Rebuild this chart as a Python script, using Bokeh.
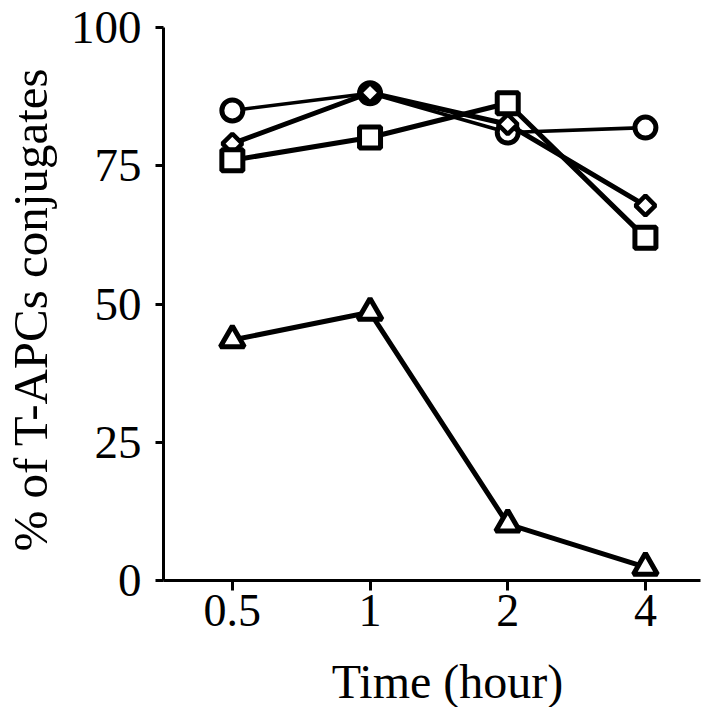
import math
from bokeh.plotting import figure
from bokeh.layouts import row, column
from bokeh.models import Range1d, FixedTicker, Label
from bokeh.embed import file_html
from bokeh.resources import INLINE

# ---- data ----
time_labels = ["0.5", "1", "2", "4"]
x_pos = [0, 1, 2, 3]
circle_vals = [85.0, 88.1, 81.0, 81.9]
diamond_vals = [79.0, 88.2, 82.5, 67.8]
square_vals = [76.0, 80.1, 86.3, 62.0]
triangle_vals = [43.5, 48.5, 10.2, 2.4]
y_ticks = [0, 25, 50, 75, 100]
y_title = "% of T-APCs conjugates"
x_title = "Time (hour)"

FONT = "Liberation Serif"


def text_panel(w, h):
    f = figure(width=w, height=h, output_backend="svg", toolbar_location=None,
               x_axis_location=None, y_axis_location=None,
               min_border=0, min_border_left=0, min_border_right=0,
               min_border_top=0, min_border_bottom=0)
    f.outline_line_color = None
    f.xgrid.visible = False
    f.ygrid.visible = False
    return f


# y-title panel
yt = text_panel(60, 707)
yt.add_layout(Label(x=30, y=398, x_units="screen", y_units="screen",
                    text=y_title, angle=math.pi / 2,
                    text_align="center", text_baseline="alphabetic",
                    text_font=FONT, text_font_size="49px", text_color="black"))

# main plot
p = figure(width=660, height=652, output_backend="svg", toolbar_location=None,
           x_range=Range1d(-0.5, 3.4), y_range=Range1d(0, 100),
           min_border_left=103, min_border_right=20, min_border_top=27,
           min_border_bottom=72)
p.outline_line_color = None
p.xgrid.visible = False
p.ygrid.visible = False

p.line(x_pos, circle_vals, line_color="black", line_width=3.6)
p.scatter(x_pos, circle_vals, marker="circle", size=21, fill_color="white",
          line_color="black", line_width=5)
p.line(x_pos, diamond_vals, line_color="black", line_width=5)
p.scatter(x_pos, diamond_vals, marker="square", angle=math.pi / 4, size=14,
          fill_color="white", line_color="black", line_width=4.5)
p.line(x_pos, square_vals, line_color="black", line_width=5)
p.scatter(x_pos, square_vals, marker="square", size=21, fill_color="white",
          line_color="black", line_width=5)
p.line(x_pos, triangle_vals, line_color="black", line_width=5)
p.scatter(x_pos, triangle_vals, marker="triangle", size=24, fill_color="white",
          line_color="black", line_width=5)

xa = p.xaxis[0]
xa.ticker = FixedTicker(ticks=x_pos)
xa.major_label_overrides = {i: t for i, t in zip(x_pos, time_labels)}
xa.minor_tick_line_color = None
xa.major_tick_in = 0
xa.major_tick_out = 10
xa.major_tick_line_width = 3
xa.axis_line_width = 3
xa.major_label_text_font = FONT
xa.major_label_text_font_size = "46px"
xa.major_label_text_color = "black"
xa.major_label_standoff = 4

ya = p.yaxis[0]
ya.ticker = FixedTicker(ticks=y_ticks)
ya.minor_tick_line_color = None
ya.major_tick_in = 0
ya.major_tick_out = 8
ya.major_tick_line_width = 3
ya.axis_line_width = 3
ya.major_label_text_font = FONT
ya.major_label_text_font_size = "47px"
ya.major_label_text_color = "black"
ya.major_label_standoff = 14

# x-title panel
xt = text_panel(660, 55)
xt.add_layout(Label(x=284, y=26, x_units="screen", y_units="screen",
                    text=x_title, text_align="center", text_baseline="alphabetic",
                    text_font=FONT, text_font_size="48px", text_color="black"))

layout = row(yt, column(p, xt, spacing=0), spacing=0)

open("out.html", "w").write(file_html(layout, INLINE))
